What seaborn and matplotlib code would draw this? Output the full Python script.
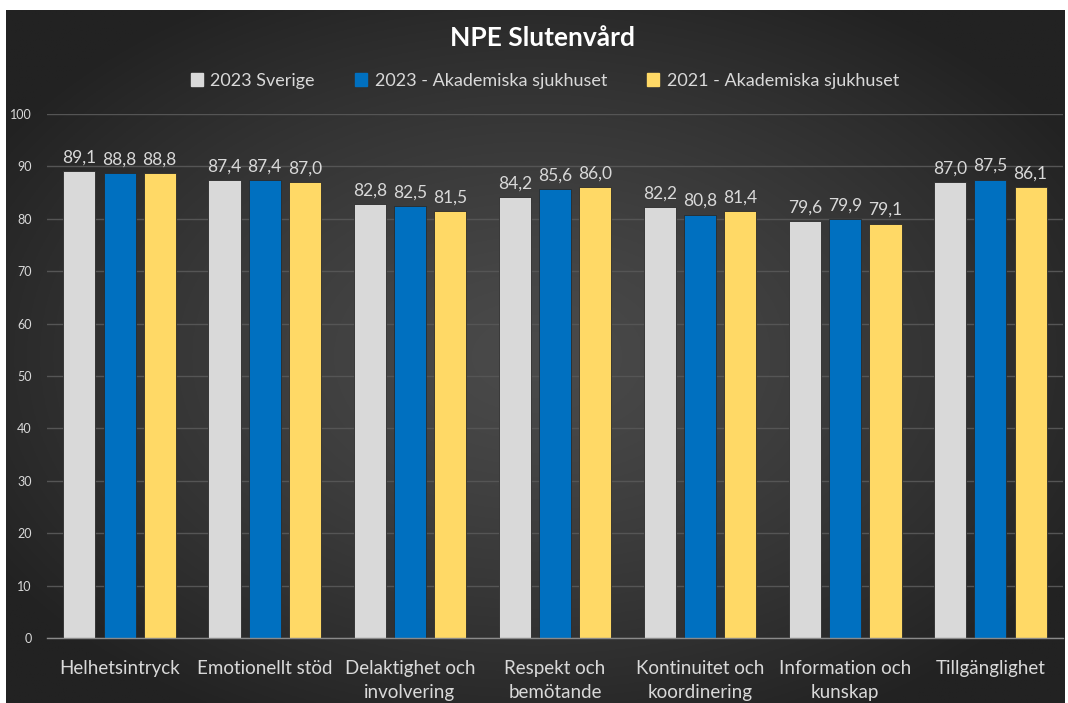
import numpy as np
import pandas as pd
import matplotlib
matplotlib.use("Agg")
import matplotlib.pyplot as plt
import seaborn as sns

categories = ["Helhetsintryck", "Emotionellt stöd", "Delaktighet och\ninvolvering",
              "Respekt och\nbemötande", "Kontinuitet och\nkoordinering",
              "Information och\nkunskap", "Tillgänglighet"]
series = ["2023 Sverige", "2023 - Akademiska sjukhuset", "2021 - Akademiska sjukhuset"]
sverige_2023 = [89.1, 87.4, 82.8, 84.2, 82.2, 79.6, 87.0]
akademiska_2023 = [88.8, 87.4, 82.5, 85.6, 80.8, 79.9, 87.5]
akademiska_2021 = [88.8, 87.0, 81.5, 86.0, 81.4, 79.1, 86.1]
colors = ["#D9D9D9", "#0070C0", "#FFD966"]

df = pd.DataFrame({
    "kategori": categories * 3,
    "serie": [series[0]] * 7 + [series[1]] * 7 + [series[2]] * 7,
    "varde": sverige_2023 + akademiska_2023 + akademiska_2021,
})

plt.rcParams["font.family"] = ["Lato", "DejaVu Sans"]
txt = "#D9D9D9"

fig = plt.figure(figsize=(10.68, 7.03), dpi=100, facecolor="white")

# dark radial gradient background panel
bg = fig.add_axes([6 / 1068, 0, 1059 / 1068, 693 / 703])
yy, xx = np.mgrid[0:1:400j, 0:1:600j]
r = np.sqrt(((xx - 0.5) / 0.6) ** 2 + ((yy - 0.5) / 0.6) ** 2)
t = np.clip(r, 0, 1) ** 1.3
center = np.array([0x4a, 0x4a, 0x4a]) / 255
edge = np.array([0x22, 0x22, 0x22]) / 255
img = center * (1 - t[..., None]) + edge * t[..., None]
bg.imshow(img, aspect="auto", extent=[0, 1, 0, 1])
bg.axis("off")

ax = fig.add_axes([47 / 1068, 1 - 638 / 703, (1063 - 47) / 1068, (638 - 114) / 703])
ax.set_facecolor("none")
sns.barplot(data=df, x="kategori", y="varde", hue="serie", palette=colors,
            saturation=1, width=0.83, gap=0.2, ax=ax, edgecolor="#2a2a2a",
            linewidth=0.6, legend=False)

for cont in ax.containers:
    labels = [f"{b.get_height():.1f}".replace(".", ",") for b in cont]
    ax.bar_label(cont, labels=labels, padding=4, color=txt, fontsize=12.5)

ax.set_ylim(0, 100)
ax.set_xlim(-0.5, 6.5)
ax.set_yticks(range(0, 101, 10))
ax.yaxis.grid(True, color="#555555", linewidth=1)
ax.set_axisbelow(True)
for s in ["top", "right", "left"]:
    ax.spines[s].set_visible(False)
ax.spines["bottom"].set_color("#8a8a8a")
ax.spines["bottom"].set_linewidth(1)
ax.tick_params(axis="y", length=0, pad=11, labelcolor=txt, labelsize=9)
ax.tick_params(axis="x", length=0, pad=16, labelcolor=txt, labelsize=13.5)
for lab in ax.get_xticklabels():
    lab.set_linespacing(1.45)
ax.set_xlabel("")
ax.set_ylabel("")

handles = [plt.Rectangle((0, 0), 1, 1, color=c) for c in colors]
leg = fig.legend(handles, series, loc="center", bbox_to_anchor=(0.51, 1 - 81 / 703),
                 ncol=3, frameon=False, fontsize=13, handlelength=0.7, handleheight=0.7,
                 handletextpad=0.4, columnspacing=2.2)
for tx in leg.get_texts():
    tx.set_color(txt)

fig.text(0.508, 1 - 38 / 703, "NPE Slutenvård", ha="center", va="center",
         color="white", fontsize=19, fontweight="bold")

fig.savefig("out.png", dpi=100, facecolor="white")
